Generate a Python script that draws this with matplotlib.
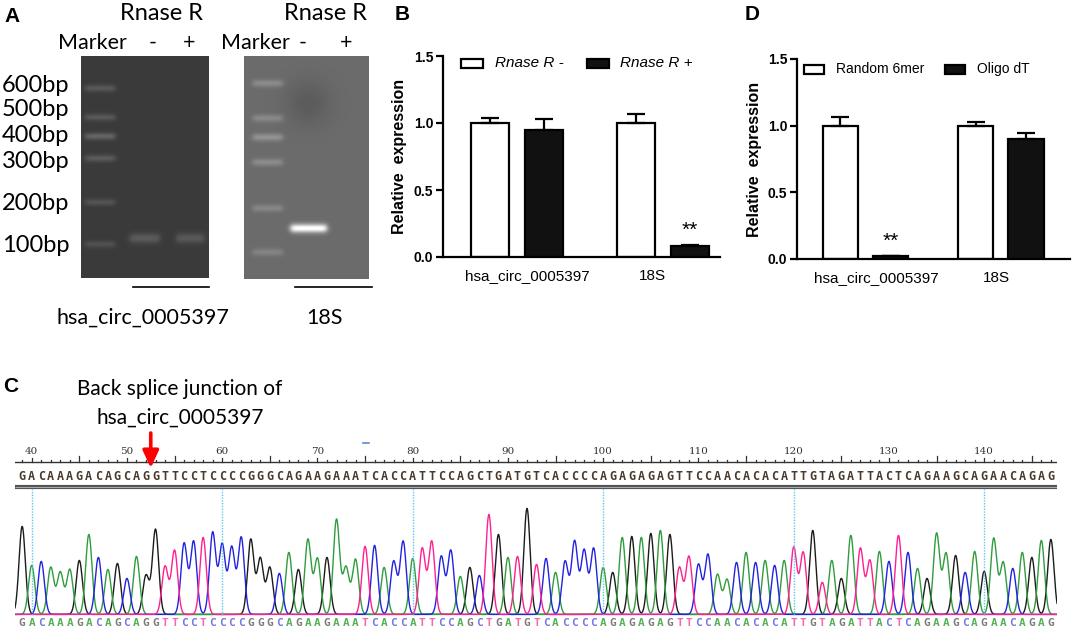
import numpy as np
import matplotlib.pyplot as plt

W, H = 1072, 630

# panel B: RNase R treatment
genes = ["hsa_circ_0005397", "18S"]
rnase_minus = [1.00, 1.00]
rnase_minus_err = [0.04, 0.065]
rnase_plus = [0.95, 0.08]
rnase_plus_err = [0.08, 0.012]

# panel D: reverse transcription primers
random6 = [1.00, 1.00]
random6_err = [0.067, 0.03]
oligo_dt = [0.02, 0.90]
oligo_dt_err = [0.005, 0.047]

# panel A: gel bands (rows in pixels of the figure)
marker_labels = ["600bp", "500bp", "400bp", "300bp", "200bp", "100bp"]
marker_label_rows = [85, 110, 135, 162, 203, 245]
gel1_marker_rows = [88, 117, 136, 158, 202, 244]
gel1_marker_amp = [0.12, 0.12, 0.17, 0.13, 0.10, 0.09]
gel1_sample_rows = [238, 238]
gel1_sample_amp = [0.13, 0.12]
gel2_marker_rows = [83, 118, 137, 162, 208, 252]
gel2_marker_amp = [0.13, 0.12, 0.16, 0.13, 0.11, 0.10]
gel2_sample_rows = [228]
gel2_sample_amp = [0.6]

# panel C: Sanger read
seq_start = 39
sequence = ("GACAAAGACAGCAGGTTCCTCCCCGGGCAGAAGAAATCACCATTC"
            "CAGCTGATGTCACCCCAGAGAGAGTTCCAACACACATTGTAGATT"
            "ACTCAGAAGCAGAACAGAG")
peak_heights = [88, 49, 53, 47, 42, 45, 54, 80, 57, 45, 51, 36, 58, 39, 85,
                48, 64, 71, 73, 77, 82, 70, 67, 77, 75, 56, 47, 41, 62, 45,
                75, 56, 57, 95, 47, 55, 68, 69, 47, 53, 73, 56, 66, 73, 58,
                64, 38, 47, 39, 100, 80, 57, 58, 106, 50, 56, 42, 53, 73, 64,
                66, 47, 42, 77, 78, 77, 81, 84, 80, 47, 58, 50, 60, 40, 35,
                52, 62, 52, 54, 49, 54, 67, 62, 84, 32, 54, 36, 79, 66, 54,
                63, 53, 79, 62, 46, 36, 81, 61, 59, 42, 63, 43, 76, 52, 46,
                62, 57, 74, 75]
junction_pos = 52.5

trace_colors = {"A": "#2f9d3d", "C": "#2222e0", "G": "#1c1c1c", "T": "#ff2090"}
call_colors = {"A": "#58b05a", "C": "#7676e0", "G": "#7a7a7a", "T": "#f06cb0"}

SANS_A = ["Lato", "DejaVu Sans"]
SANS_B = ["Liberation Sans", "DejaVu Sans"]


def box(l, t, r, b):
    return [l / W, 1 - b / H, (r - l) / W, (b - t) / H]


def draw_gel(x0, x1, y0, y1, bg, lanes):
    xs = np.arange(x0, x1, 0.5)
    ys = np.arange(y0, y1, 0.5)
    X, Y = np.meshgrid(xs, ys)
    img = np.full(X.shape, bg, dtype=float)
    for cx, hw, rows, amps, sig in lanes:
        xprof = 1 / (1 + np.exp(-(X - (cx - hw)) / 1.5)) / (1 + np.exp((X - (cx + hw)) / 1.5))
        for r, a in zip(rows, amps):
            img += a * xprof * np.exp(-0.5 * ((Y - r) / sig) ** 2)
    return img, X, Y


fig = plt.figure(figsize=(W / 100, H / 100), dpi=100)
cv = fig.add_axes([0, 0, 1, 1])
cv.set_xlim(0, W)
cv.set_ylim(H, 0)
cv.axis("off")

# ---- panel A
g1, _, _ = draw_gel(81, 209, 56, 278, 0.23,
                    [(100, 15, gel1_marker_rows, gel1_marker_amp, 2.4),
                     (144.5, 15, gel1_sample_rows[:1], gel1_sample_amp[:1], 3.5),
                     (190, 14, gel1_sample_rows[1:], gel1_sample_amp[1:], 3.5)])
cv.imshow(np.clip(g1, 0, 1), cmap="gray", vmin=0, vmax=1, extent=(81, 209, 278, 56),
          interpolation="bilinear", aspect="auto")
g2, X2, Y2 = draw_gel(244, 369, 56, 279, 0.42,
                      [(267.5, 15, gel2_marker_rows, gel2_marker_amp, 2.6),
                       (308.5, 18, gel2_sample_rows, gel2_sample_amp, 3.0)])
g2 -= 0.06 * np.exp(-((X2 - 308) ** 2 + (Y2 - 103) ** 2) / (2 * 16 ** 2))
cv.imshow(np.clip(g2, 0, 1), cmap="gray", vmin=0, vmax=1, extent=(244, 369, 279, 56),
          interpolation="bilinear", aspect="auto")

cv.text(4, 16, "A", fontsize=15, fontweight="bold", family=SANS_B, va="center")
for cx in (162, 325):
    cv.text(cx, 14, "Rnase R", fontsize=17, family=SANS_A, ha="center", va="center")
for cx, t in [(92, "Marker"), (153, "-"), (189, "+"), (255, "Marker"), (303, "-"), (346, "+")]:
    cv.text(cx, 43, t, fontsize=15.5, family=SANS_A, ha="center", va="center")
for lab, r in zip(marker_labels, marker_label_rows):
    cv.text(2, r, lab, fontsize=17, family=SANS_A, ha="left", va="center")
cv.plot([133, 209], [287, 287], color="black", lw=1.2)
cv.plot([295, 372], [287, 287], color="black", lw=1.2)
cv.text(143, 318, genes[0], fontsize=15.5, family=SANS_A, ha="center", va="center")
cv.text(324, 318, genes[1], fontsize=15.5, family=SANS_A, ha="center", va="center")

# ---- panel letters / C caption
cv.text(3, 387, "C", fontsize=15, fontweight="bold", family=SANS_B, va="center")
cv.text(180, 389, "Back splice junction of", fontsize=15, family=SANS_A, ha="center", va="center")
cv.text(180, 418, "hsa_circ_0005397", fontsize=15, family=SANS_A, ha="center", va="center")
cv.text(395, 15, "B", fontsize=15, fontweight="bold", family=SANS_B, va="center")
cv.text(745, 15, "D", fontsize=15, fontweight="bold", family=SANS_B, va="center")


# ---- bar panels
def bar_panel(rect, xlim, vals_a, err_a, vals_b, err_b, labels, leg, leg_style, star_idx, tick_pos):
    ax = fig.add_axes(rect)
    x = np.arange(len(genes))
    w, off = 0.26, 0.185
    ekw = dict(elinewidth=1.6, capthick=1.6, ecolor="black")
    ax.bar(x - off, vals_a, w, color="white", edgecolor="black", lw=1.6,
           yerr=[np.zeros(len(x)), err_a], capsize=6.5, error_kw=ekw)
    ax.bar(x + off, vals_b, w, color="#111111", edgecolor="black", lw=1.6,
           yerr=[np.zeros(len(x)), err_b], capsize=6.5, error_kw=ekw)
    i = star_idx
    ax.text(x[i] + off, vals_b[i] + err_b[i] + 0.11, "**", fontsize=15, family=SANS_B,
            ha="center", va="center")
    ax.set_xlim(*xlim)
    ax.set_ylim(0, 1.5)
    ax.set_yticks([0, 0.5, 1.0, 1.5])
    ax.set_yticklabels(["0.0", "0.5", "1.0", "1.5"], fontsize=10, fontweight="bold", family=SANS_B)
    ax.set_xticks(tick_pos)
    ax.set_xticklabels(labels, fontsize=11, family=SANS_B)
    ax.tick_params(axis="x", length=0, pad=9)
    ax.tick_params(axis="y", length=5, width=1.6, pad=2)
    for s in ("top", "right"):
        ax.spines[s].set_visible(False)
    for s in ("left", "bottom"):
        ax.spines[s].set_linewidth(1.6)
    ax.set_ylabel("Relative  expression", fontsize=11.5, fontweight="bold", family=SANS_B)
    ax.yaxis.set_label_coords(-0.13, 0.5)
    for (bx, by, tx, fill), name in zip(leg_style, leg):
        ax.add_patch(plt.Rectangle((bx, by), 0.15, 0.07, facecolor=fill, edgecolor="black",
                                   lw=1.6, clip_on=False))
        ax.text(tx, by + 0.035, name, fontsize=leg[name], family=SANS_B,
                style="italic" if "Rnase" in name else "normal", va="center", ha="left")
    return ax


bar_panel(box(443, 56, 720, 257), (-0.507, 1.39), rnase_minus, rnase_minus_err,
          rnase_plus, rnase_plus_err, genes,
          {"Rnase R -": 11, "Rnase R +": 11},
          [(-0.384, 1.41, -0.151, "white"), (0.479, 1.41, 0.705, "#111111")], 1, [0.07, 0.93])
bar_panel(box(797, 59, 1070, 259), (-0.506, 1.51), random6, random6_err,
          oligo_dt, oligo_dt_err, genes,
          {"Random 6mer": 10, "Oligo dT": 10},
          [(-0.454, 1.388, -0.218, "white"), (0.587, 1.388, 0.823, "#111111")], 0, [0.08, 0.97])

# ---- panel C chromatogram
px0, px_per_base = 31.7, 9.525
x_lo = 40 + (15 - px0) / px_per_base
x_hi = 40 + (1057 - px0) / px_per_base
cc = fig.add_axes(box(15, 440, 1057, 630))
cc.set_xlim(x_lo, x_hi)
cc.set_ylim(-15, 175)
cc.axis("off")

pos = seq_start + np.arange(len(sequence))
xx = np.linspace(x_lo, x_hi, 5000)
sig = 0.33
for base in "GACT":
    y = np.zeros_like(xx)
    for p, b, h in zip(pos, sequence, peak_heights):
        if b == base:
            y += h * np.exp(-0.5 * ((xx - p) / sig) ** 2)
    cc.plot(xx, y + 0.6, color=trace_colors[base], lw=1.0)

for p in range(40, 141, 20):
    cc.plot([p, p], [0, 126], color="#5cc8ea", lw=1.0, ls=(0, (1, 1)))

# ruler
cc.plot([x_lo, x_hi], [153, 153], color="#333333", lw=1.0)
for p in range(seq_start, pos[-1] + 1):
    h = 6 if p % 5 == 0 and p % 10 != 0 else (4 if p % 10 == 0 else 2.2)
    cc.plot([p, p], [153, 153 + h], color="#333333", lw=0.9)
for p in range(40, 141, 10):
    cc.text(p, 163.5, str(p), fontsize=7.5, family="DejaVu Serif", color="#333333",
            ha="center", va="center")
cc.plot([74.8, 75.4], [172, 172], color="#5a8ac8", lw=1.2)

cc.plot([x_lo, x_hi], [128, 128], color="#555555", lw=3.0, solid_capstyle="butt")
cc.plot([x_lo, x_hi], [128, 128], color="#bbbbbb", lw=0.6, solid_capstyle="butt")

for p, b in zip(pos, sequence):
    cc.text(p, 138, b, fontsize=8.5, fontweight="bold", family="DejaVu Sans Mono",
            color="#4a3a2c", ha="center", va="center")
    cc.text(p, -8, b, fontsize=8, fontweight="bold", family="DejaVu Sans Mono",
            color=call_colors[b], ha="center", va="center")

cc.annotate("", xy=(junction_pos, 147), xytext=(junction_pos, 182),
            arrowprops=dict(arrowstyle="-|>,head_length=0.65,head_width=0.3", color="#ff0000",
                            lw=2.6, shrinkA=0, shrinkB=0, mutation_scale=16),
            annotation_clip=False)

fig.savefig("out.png", dpi=100)
